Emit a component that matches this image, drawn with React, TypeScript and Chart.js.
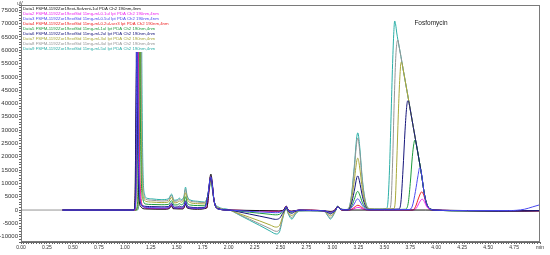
import { useEffect, useRef } from 'react';
import { Chart, registerables } from 'chart.js';

Chart.register(...registerables);

type P = [number, number];

const X_MIN = 0;
const X_MAX = 5;
const Y_MIN = -12000;
const Y_MAX = 77000;

const LEGEND_LABELS = [
  'Data1 FSFM-1192Zor19ext-Solvent-1ul PDA Ch2 190nm,4nm',
  'Data2 FSFM-1192Zor19extStd 11mg-ml-0.1ul Ipt PDA Ch2 190nm,4nm',
  'Data3 FSFM-1192Zor19extStd 11mg-ml-0.5ul Ipt PDA Ch2 190nm,4nm',
  'Data4 FSFM-1192Zor19extStd 11mg-ml-0.2ul-ser3 Ipt PDA Ch2 190nm,4nm',
  'Data5 FSFM-1192Zor19extStd 11mg-ml-1ul Ipt PDA Ch2 190nm,4nm',
  'Data6 FSFM-1192Zor19extStd 11mg-ml-2ul Ipt PDA Ch2 190nm,4nm',
  'Data7 FSFM-1192Zor19extStd 11mg-ml-3ul Ipt PDA Ch2 190nm,4nm',
  'Data8 FSFM-1192Zor19extStd 11mg-ml-4ul Ipt PDA Ch2 190nm,4nm',
  'Data9 FSFM-1192Zor19extStd 11mg-ml-5ul Ipt PDA Ch2 190nm,4nm',
];

const COLORS = ['#111111', '#ee22ee', '#4848f0', '#ee2222', '#1c9c3c', '#14147a', '#a8a838', '#959595', '#2aaea6'];
const DRAW_ORDER = [2, 3, 0, 4, 5, 1, 6, 7, 8];

const PEAK_LABEL = 'Fosfomycin';
const PEAK_LABEL_T = 3.79;
const PEAK_LABEL_V = 70000;
const Y_UNIT = 'uV';

const solvent: P[] = [[0.4,0],[1.0,0],[1.09,0],[1.1,9000],[1.108,38000],[1.115,57000],[1.122,36000],[1.132,9000],[1.15,1500],[1.2,400],[1.4,300],[1.435,800],[1.45,1600],[1.465,500],[1.56,400],[1.575,1200],[1.585,2400],[1.6,800],[1.7,300],[1.79,800],[1.805,5000],[1.82,12000],[1.83,13500],[1.842,10500],[1.86,3500],[1.9,400],[2.0,0],[2.3,-200],[2.48,-300],[2.53,0],[2.555,1500],[2.575,0],[2.61,-400],[2.68,0],[2.9,-200],[2.98,-500],[3.02,-100],[3.05,1200],[3.09,0],[3.5,0],[3.9,0],[4.3,-200],[4.8,-300],[5.0,-300]];

const std01: P[] = [[0.4,0],[1.0,0],[1.095,0],[1.108,25000],[1.12,90000],[1.13,36000],[1.145,8000],[1.17,1500],[1.22,600],[1.4,500],[1.435,1000],[1.45,1900],[1.465,700],[1.56,600],[1.575,1500],[1.585,2800],[1.6,1000],[1.7,500],[1.79,900],[1.805,5000],[1.82,11500],[1.83,12800],[1.842,10000],[1.86,3500],[1.9,500],[2.0,0],[2.3,-300],[2.47,-450],[2.53,0],[2.555,1400],[2.575,0],[2.61,-500],[2.68,0],[2.9,-200],[2.98,-700],[3.02,-100],[3.05,1200],[3.09,0],[3.15,0],[3.19,200],[3.22,700],[3.245,1000],[3.27,800],[3.3,300],[3.35,0],[3.78,0],[3.81,800],[3.84,3000],[3.865,4100],[3.885,3200],[3.91,1200],[3.94,200],[3.98,0],[4.3,-200],[4.8,-300],[5.0,-300]];

const std05: P[] = [[0.4,0],[1.0,0],[1.09,0],[1.107,4000],[1.114,45000],[1.12,100000],[1.127,40000],[1.14,8000],[1.155,2500],[1.18,1200],[1.26,900],[1.35,800],[1.42,900],[1.45,2200],[1.475,800],[1.51,800],[1.525,1000],[1.545,800],[1.57,1500],[1.585,3000],[1.6,1300],[1.63,800],[1.7,700],[1.77,800],[1.8,5500],[1.82,11500],[1.83,12500],[1.842,9800],[1.86,3500],[1.9,400],[2.0,0],[2.1,-250],[2.2,-500],[2.3,-700],[2.4,-900],[2.45,-1000],[2.49,-900],[2.52,-400],[2.54,100],[2.555,1300],[2.575,-200],[2.61,-600],[2.64,-300],[2.68,0],[2.8,-200],[2.92,-300],[2.96,-700],[2.98,-900],[3.0,-700],[3.03,-100],[3.05,1200],[3.08,300],[3.12,100],[3.15,100],[3.18,700],[3.21,2300],[3.235,4000],[3.245,4200],[3.26,3600],[3.29,1600],[3.32,400],[3.36,100],[3.45,100],[3.74,200],[3.77,1500],[3.8,7000],[3.825,13000],[3.84,15800],[3.855,14500],[3.87,10500],[3.885,6000],[3.905,2500],[3.93,800],[3.97,0],[4.3,-200],[4.7,-200],[4.85,300],[4.93,1200],[5.0,2000]];

const std02: P[] = [[0.4,0],[1.0,0],[1.1,0],[1.113,20000],[1.125,95000],[1.135,36000],[1.15,8000],[1.175,1500],[1.22,700],[1.4,600],[1.435,1100],[1.45,2000],[1.465,800],[1.56,700],[1.575,1600],[1.585,2900],[1.6,1100],[1.7,600],[1.79,900],[1.805,5000],[1.82,11500],[1.83,12500],[1.842,9800],[1.86,3500],[1.9,500],[2.0,0],[2.3,-350],[2.47,-500],[2.53,0],[2.555,1400],[2.575,0],[2.61,-500],[2.68,0],[2.9,-200],[2.98,-750],[3.02,-100],[3.05,1200],[3.09,0],[3.15,0],[3.19,400],[3.22,1300],[3.245,1800],[3.27,1400],[3.3,500],[3.35,0],[3.77,0],[3.8,1200],[3.83,4500],[3.86,6800],[3.88,5600],[3.905,2200],[3.935,400],[3.97,0],[4.3,-200],[4.8,-300],[5.0,-300]];

const std1: P[] = [[0.4,0],[1.0,0],[1.105,0],[1.123,3000],[1.133,45000],[1.14,100000],[1.148,45000],[1.16,10000],[1.175,4000],[1.195,2300],[1.26,2100],[1.35,2000],[1.42,2100],[1.45,3500],[1.475,1900],[1.51,2000],[1.525,2400],[1.545,2000],[1.57,2900],[1.585,5000],[1.6,2900],[1.63,1900],[1.7,1700],[1.77,1600],[1.8,5500],[1.82,10500],[1.83,11500],[1.842,9300],[1.86,3500],[1.9,500],[2.0,0],[2.1,-400],[2.2,-800],[2.3,-1200],[2.4,-1600],[2.45,-1800],[2.49,-1600],[2.52,-700],[2.54,0],[2.555,1100],[2.575,-300],[2.61,-800],[2.64,-400],[2.68,-100],[2.8,-200],[2.92,-300],[2.96,-900],[2.98,-1200],[3.0,-900],[3.03,-100],[3.05,1300],[3.08,300],[3.12,100],[3.15,100],[3.18,1100],[3.21,3900],[3.235,6700],[3.245,7000],[3.26,6000],[3.29,2700],[3.32,700],[3.36,100],[3.45,100],[3.7,300],[3.73,2500],[3.75,10000],[3.77,20000],[3.785,25000],[3.795,26300],[3.805,25300],[3.82,22200],[3.84,17700],[3.86,13000],[3.88,7500],[3.9,3500],[3.92,1300],[3.95,300],[3.98,0],[4.3,-300],[4.6,-400],[4.85,-300],[5.0,-200]];

const std2: P[] = [[0.4,0],[1.0,0],[1.085,0],[1.102,4000],[1.11,50000],[1.115,110000],[1.122,50000],[1.135,10000],[1.15,3000],[1.17,1600],[1.26,1300],[1.35,1200],[1.42,1300],[1.45,2600],[1.475,1100],[1.51,1200],[1.525,1500],[1.545,1200],[1.57,1800],[1.585,3500],[1.6,1800],[1.63,1100],[1.7,900],[1.77,1000],[1.8,5500],[1.82,11000],[1.83,12000],[1.842,9500],[1.86,3500],[1.9,500],[2.0,0],[2.1,-700],[2.2,-1500],[2.3,-2300],[2.4,-3100],[2.45,-3500],[2.49,-3100],[2.52,-1300],[2.54,-100],[2.555,1000],[2.575,-500],[2.61,-1200],[2.64,-600],[2.68,-100],[2.8,-200],[2.92,-300],[2.96,-1100],[2.98,-1500],[3.0,-1100],[3.03,-100],[3.05,1300],[3.08,300],[3.12,100],[3.15,100],[3.18,2000],[3.21,7000],[3.235,12200],[3.245,12800],[3.26,11000],[3.29,5000],[3.32,1300],[3.36,200],[3.45,200],[3.64,400],[3.66,3000],[3.68,15000],[3.7,30000],[3.715,38500],[3.725,41000],[3.735,40800],[3.745,38800],[3.76,35500],[3.78,31000],[3.8,26600],[3.82,22200],[3.84,17700],[3.86,13000],[3.88,7500],[3.9,3500],[3.92,1300],[3.95,300],[3.98,0],[4.3,-300],[4.6,-400],[4.85,-300],[5.0,-200]];

const std3: P[] = [[0.4,0],[1.0,0],[1.11,0],[1.128,3000],[1.138,45000],[1.145,110000],[1.153,50000],[1.165,12000],[1.18,5000],[1.2,3300],[1.26,3000],[1.35,2800],[1.42,3000],[1.45,4800],[1.475,2700],[1.51,2900],[1.525,3400],[1.545,2900],[1.57,4000],[1.585,6500],[1.6,4200],[1.63,2800],[1.7,2400],[1.77,2300],[1.8,5500],[1.82,10000],[1.83,11000],[1.842,9000],[1.86,3500],[1.9,800],[2.0,0],[2.1,-1300],[2.2,-2700],[2.3,-4100],[2.4,-5600],[2.455,-6400],[2.49,-5800],[2.52,-2500],[2.54,-300],[2.555,800],[2.575,-1000],[2.61,-2000],[2.64,-1100],[2.68,-200],[2.8,-200],[2.92,-400],[2.96,-1600],[2.98,-2200],[3.0,-1700],[3.03,-200],[3.05,1400],[3.08,400],[3.12,150],[3.15,200],[3.18,3000],[3.21,10800],[3.235,18500],[3.245,19500],[3.26,16800],[3.29,7400],[3.32,2000],[3.36,400],[3.45,300],[3.59,500],[3.605,3000],[3.62,18000],[3.635,36000],[3.65,50000],[3.662,55500],[3.672,55000],[3.68,53200],[3.7,48800],[3.72,44400],[3.74,40000],[3.76,35500],[3.78,31000],[3.8,26600],[3.82,22200],[3.84,17700],[3.86,13000],[3.88,7500],[3.9,3500],[3.92,1300],[3.95,300],[3.98,0],[4.3,-300],[4.6,-500],[4.85,-400],[5.0,-200]];

const std4: P[] = [[0,0],[1.0,0],[1.115,0],[1.133,3000],[1.143,50000],[1.15,120000],[1.158,55000],[1.17,14000],[1.185,5500],[1.205,4000],[1.26,3700],[1.35,3400],[1.42,3700],[1.45,5500],[1.475,3300],[1.51,3500],[1.525,4000],[1.545,3500],[1.57,4700],[1.585,7800],[1.6,5000],[1.63,3400],[1.7,3000],[1.77,2800],[1.8,5500],[1.82,9500],[1.83,10500],[1.842,8500],[1.86,3500],[1.9,1000],[2.0,100],[2.1,-1600],[2.2,-3400],[2.3,-5200],[2.4,-7000],[2.46,-8000],[2.49,-7300],[2.52,-3000],[2.54,-400],[2.555,700],[2.575,-1200],[2.61,-2800],[2.64,-1500],[2.68,-300],[2.8,-300],[2.92,-500],[2.96,-2100],[2.98,-3000],[3.0,-2300],[3.03,-300],[3.05,1500],[3.08,500],[3.12,200],[3.15,300],[3.18,4200],[3.21,15000],[3.235,25600],[3.245,27000],[3.26,23300],[3.29,10200],[3.32,2800],[3.36,500],[3.45,400],[3.55,500],[3.565,3000],[3.58,18000],[3.595,40000],[3.61,57000],[3.622,63000],[3.632,63800],[3.64,62000],[3.66,57700],[3.68,53200],[3.7,48800],[3.72,44400],[3.74,40000],[3.76,35500],[3.78,31000],[3.8,26600],[3.82,22200],[3.84,17700],[3.86,13000],[3.88,7500],[3.9,3500],[3.92,1300],[3.95,300],[3.98,0],[4.3,-300],[4.6,-500],[4.85,-400],[5.0,-200]];

const std5: P[] = [[0.4,0],[1.0,0],[1.12,0],[1.138,3000],[1.148,50000],[1.155,130000],[1.163,60000],[1.175,15000],[1.19,6000],[1.21,4500],[1.26,4200],[1.35,3900],[1.42,4200],[1.45,6000],[1.475,3700],[1.51,3900],[1.525,4500],[1.545,3900],[1.57,5200],[1.585,8600],[1.6,5500],[1.63,3800],[1.7,3300],[1.77,3000],[1.8,5500],[1.82,9000],[1.83,10000],[1.842,8000],[1.86,3500],[1.9,1200],[2.0,200],[2.1,-1800],[2.2,-3800],[2.3,-5800],[2.4,-7900],[2.46,-9000],[2.49,-8200],[2.52,-3400],[2.54,-500],[2.555,600],[2.575,-1500],[2.61,-3400],[2.64,-1800],[2.68,-400],[2.8,-300],[2.92,-500],[2.96,-2400],[2.98,-3400],[3.0,-2600],[3.03,-300],[3.05,1500],[3.08,500],[3.12,200],[3.15,300],[3.18,4500],[3.21,16000],[3.235,27500],[3.245,29000],[3.26,25000],[3.29,11000],[3.32,3000],[3.36,500],[3.45,400],[3.52,600],[3.535,3000],[3.55,15000],[3.565,35000],[3.58,55000],[3.592,67000],[3.6,71000],[3.61,69500],[3.62,66500],[3.64,62000],[3.66,57700],[3.68,53200],[3.7,48800],[3.72,44400],[3.74,40000],[3.76,35500],[3.78,31000],[3.8,26600],[3.82,22200],[3.84,17700],[3.86,13000],[3.88,7500],[3.9,3500],[3.92,1300],[3.95,300],[3.98,0],[4.3,-300],[4.6,-500],[4.85,-400],[5.0,-200]];

const SERIES: P[][] = [solvent, std01, std05, std02, std1, std2, std3, std4, std5];

const FONT = '"Liberation Sans", Arial, sans-serif';

const overlayPlugin = {
  id: 'overlay',
  afterDatasetsDraw(chart: any) {
    const { ctx, chartArea: a } = chart;
    ctx.save();
    ctx.strokeStyle = '#7a7a7a';
    ctx.lineWidth = 1;
    ctx.strokeRect(Math.round(a.left) + 0.5, Math.round(a.top) + 0.5, Math.round(a.right - a.left) - 1, Math.round(a.bottom - a.top) - 1);

    ctx.font = `4.3px ${FONT}`;
    const lh = 5;
    let w = 0;
    LEGEND_LABELS.forEach((l) => { w = Math.max(w, ctx.measureText(l).width); });
    ctx.fillStyle = '#ffffff';
    ctx.fillRect(a.left + 1, a.top + 1, w + 3, lh * LEGEND_LABELS.length + 1);
    ctx.textBaseline = 'middle';
    ctx.textAlign = 'left';
    LEGEND_LABELS.forEach((l, i) => {
      ctx.fillStyle = COLORS[i];
      ctx.fillText(l, a.left + 2, a.top + 3.5 + i * lh);
    });

    const xs = chart.scales.x;
    const ys = chart.scales.y;
    ctx.font = `6.5px ${FONT}`;
    ctx.fillStyle = '#222222';
    ctx.fillText(PEAK_LABEL, xs.getPixelForValue(PEAK_LABEL_T), ys.getPixelForValue(PEAK_LABEL_V));

    ctx.font = `4.5px ${FONT}`;
    ctx.fillStyle = '#333333';
    ctx.textAlign = 'center';
    ctx.fillText(Y_UNIT, a.left - 1, a.top - 1);
    ctx.restore();
  },
};

export default function App() {
  const ref = useRef<HTMLCanvasElement | null>(null);

  useEffect(() => {
    if (!ref.current) return;
    const chart = new Chart(ref.current, {
      type: 'line',
      data: {
        datasets: SERIES.map((s, i) => ({
          label: LEGEND_LABELS[i],
          data: s.map(([x, y]) => ({ x, y })),
          borderColor: COLORS[i],
          backgroundColor: COLORS[i],
          borderWidth: 1,
          pointRadius: 0,
          fill: false,
          cubicInterpolationMode: 'monotone' as const,
          order: DRAW_ORDER[i],
        })),
      },
      options: {
        responsive: false,
        animation: false,
        events: [],
        layout: { padding: { top: 5, right: 10, left: 0, bottom: 0 } },
        plugins: { legend: { display: false }, tooltip: { enabled: false } },
        scales: {
          x: {
            type: 'linear',
            min: X_MIN,
            max: X_MAX,
            grid: { display: true, drawOnChartArea: false, drawTicks: true, tickLength: 2, color: '#666666' },
            border: { display: true, color: '#666666', width: 1 },
            ticks: {
              stepSize: 0.025,
              autoSkip: false,
              maxRotation: 0,
              minRotation: 0,
              padding: 1,
              color: '#333333',
              font: { size: 5, family: FONT },
              callback: (v: any) => {
                const k = Math.round(Number(v) * 1000);
                if (k % 250 !== 0) return '';
                if (k === X_MAX * 1000) return 'min';
                return (k / 1000).toFixed(2);
              },
            },
            afterFit: (scale: any) => { scale.height = 13; },
          },
          y: {
            type: 'linear',
            min: Y_MIN,
            max: Y_MAX,
            grid: { display: true, drawOnChartArea: false, drawTicks: true, tickLength: 2, color: '#666666' },
            border: { display: true, color: '#666666', width: 1 },
            ticks: {
              stepSize: 1000,
              autoSkip: false,
              padding: 1,
              color: '#333333',
              font: { size: 6, family: FONT },
              callback: (v: any) => {
                const n = Math.round(Number(v));
                if (n % 5000 !== 0) return '';
                return String(n);
              },
            },
            afterFit: (scale: any) => { scale.width = 21; },
          },
        },
      },
      plugins: [overlayPlugin],
    });
    return () => chart.destroy();
  }, []);

  return (
    <div style={{ position: 'fixed', left: 0, top: 0, width: 550, height: 255, background: '#ffffff' }}>
      <canvas ref={ref} width={550} height={255} style={{ display: 'block' }} />
    </div>
  );
}
